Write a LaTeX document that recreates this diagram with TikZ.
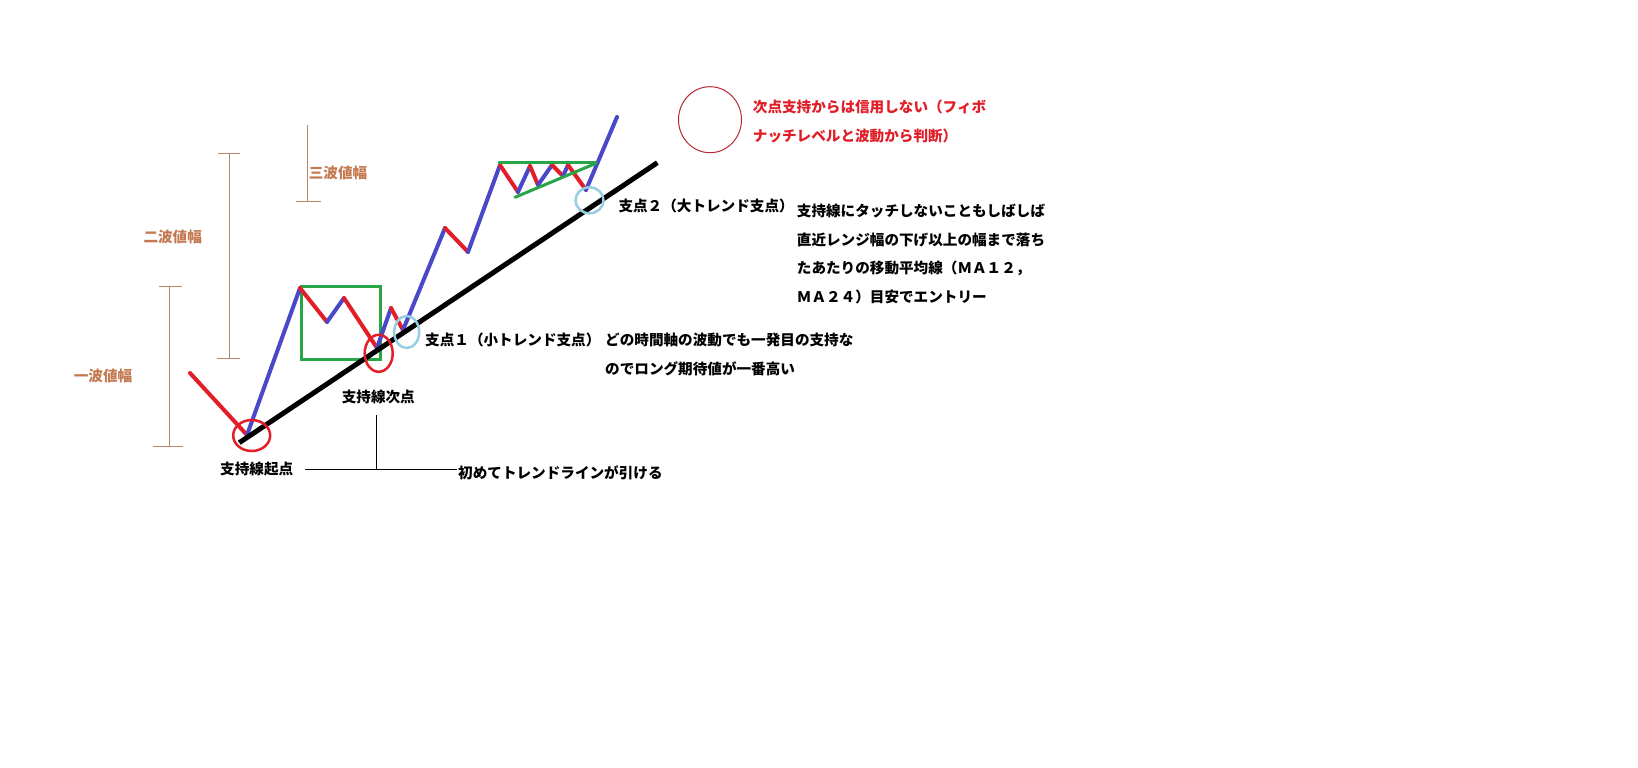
\documentclass[tikz,border=0pt]{standalone}
\usepackage{fontspec}
\newfontfamily\cjk{Noto Sans CJK JP}
\definecolor{zblue}{RGB}{72,72,200}
\definecolor{zred}{RGB}{228,30,40}
\definecolor{zgreen}{RGB}{40,165,70}
\definecolor{zcyan}{RGB}{150,205,225}
\definecolor{zbrown}{RGB}{185,135,105}
\definecolor{zbrowntext}{RGB}{195,120,80}
\definecolor{zdred}{RGB}{185,40,50}
\definecolor{ztred}{RGB}{225,30,40}
\tikzset{
  wave/.style={line width=4pt, line cap=round, line join=round},
  upw/.style={wave, draw=zblue},
  dnw/.style={wave, draw=zred},
  bar/.style={draw=zbrown, line width=1pt},
  lbl/.style={inner sep=0pt, font=\cjk\bfseries\fontsize{14.6}{17}\selectfont, text=black},
  blbl/.style={lbl, text=zbrowntext},
  rlbl/.style={lbl, text=ztred},
  ring/.style={line width=2.5pt},
}
\begin{document}
\begin{tikzpicture}[x=1pt,y=-1pt]
\useasboundingbox[fill=white] (0,0) rectangle (1638,768);
% wave points
\coordinate (p0) at (190,373);
\coordinate (p1) at (247,435);
\coordinate (p2) at (300,288);
\coordinate (p3) at (327,322);
\coordinate (p4) at (344,298);
\coordinate (p5) at (377,348);
\coordinate (p6) at (391,308);
\coordinate (p7) at (403,330);
\coordinate (p8) at (445,228);
\coordinate (p9) at (468,252);
\coordinate (p10) at (500,165);
\coordinate (p11) at (518,192);
\coordinate (p12) at (530,166);
\coordinate (p13) at (538,185);
\coordinate (p14) at (552,165);
\coordinate (p15) at (563,176);
\coordinate (p16) at (568,165);
\coordinate (p17) at (586,190);
\coordinate (p18) at (617,117);
% brown range bars
\draw[bar] (169.3,286.7) -- (169.3,446);
\draw[bar] (159,286.7) -- (181.7,286.7);
\draw[bar] (153,446) -- (182.7,446);
\draw[bar] (229,153.3) -- (229,358.3);
\draw[bar] (218,153.3) -- (240,153.3);
\draw[bar] (217,358.3) -- (240,358.3);
\draw[bar] (307.3,125) -- (307.3,201);
\draw[bar] (295.7,201) -- (320.7,201);
\node[blbl] (w1) at (103,376) {一波値幅};
\node[blbl] (w2) at (172.7,236.7) {二波値幅};
\node[blbl] (w3) at (338,173.3) {三波値幅};
% green box
\draw[zgreen, line width=3pt] (301,286.7) rectangle (380,359);
% waves
\draw[dnw] (p0) -- (p1);
\draw[upw] (p1) -- (p2);
\draw[dnw] (p2) -- (p3);
\draw[upw] (p3) -- (p4);
\draw[dnw] (p4) -- (p5);
\draw[upw] (p5) -- (p6);
\draw[dnw] (p6) -- (p7);
\draw[upw] (p7) -- (p8);
\draw[dnw] (p8) -- (p9);
\draw[upw] (p9) -- (p10);
\draw[dnw] (p10) -- (p11);
\draw[upw] (p11) -- (p12);
\draw[dnw] (p12) -- (p13);
\draw[upw] (p13) -- (p14);
\draw[dnw] (p14) -- (p15);
\draw[upw] (p15) -- (p16);
\draw[dnw] (p16) -- (p17);
\draw[upw] (p17) -- (p18);
% triangle
\draw[zgreen, line width=3pt, line cap=round] (499,162.7) -- (596,162.7);
\draw[zgreen, line width=3pt, line cap=round] (515,197.3) -- (596,163.3);
% trend line
\coordinate (t0) at (239.3,442.7);
\coordinate (t1) at (657.3,162.7);
\draw[black, line width=5pt] (t0) -- (t1);
% circles
\draw[zred, ring] (251.7,435.5) ellipse [x radius=18.5, y radius=15.5];
\draw[zred, ring] (378.7,353.3) ellipse [x radius=14, y radius=18.5];
\draw[zcyan, ring] (406.7,332) ellipse [x radius=12.5, y radius=16];
\draw[zcyan, ring] (589.5,200.3) ellipse [x radius=14, y radius=13];
\draw[zdred, line width=1pt] (710,119.7) ellipse [x radius=31.5, y radius=33];
% labels
\node[lbl] (kiten) at (256.7,469.3) {支持線起点};
\node[lbl] (jiten) at (378.3,396.7) {支持線次点};
\node[lbl, anchor=west] (hajime) at (458,473) {初めてトレンドラインが引ける};
\coordinate (hl) at (305,469.5);
\coordinate (hr) at (457,469.5);
\coordinate (vt) at (376,415);
\coordinate (vb) at (376,469.5);
\draw[black, line width=1pt] (hl) -- (hr);
\draw[black, line width=1pt] (vt) -- (vb);
\node[lbl, anchor=west] (s1) at (425,340) {支点１（小トレンド支点）};
\node[lbl, anchor=west] (s1a) at (605,340) {どの時間軸の波動でも一発目の支持な};
\node[lbl, anchor=west] (s1b) at (605,369.3) {のでロング期待値が一番高い};
\node[lbl, anchor=west] (s2) at (618.3,205.5) {支点２（大トレンド支点）};
\node[lbl, anchor=west] (s2a) at (796.7,210.7) {支持線にタッチしないこともしばしば};
\node[lbl, anchor=west] (s2b) at (796.7,240) {直近レンジ幅の下げ以上の幅まで落ち};
\node[lbl, anchor=west] (s2c) at (796.7,268.3) {たあたりの移動平均線（ＭＡ１２，};
\node[lbl, anchor=west] (s2d) at (796.7,296.7) {ＭＡ２４）目安でエントリー};
\node[rlbl, anchor=west] (r1) at (752.7,106.7) {次点支持からは信用しない（フィボ};
\node[rlbl, anchor=west] (r2) at (752.7,136) {ナッチレベルと波動から判断）};
\end{tikzpicture}
\end{document}
